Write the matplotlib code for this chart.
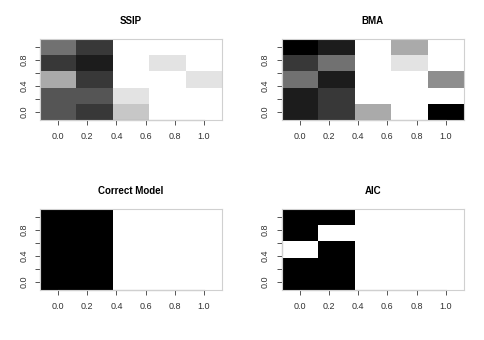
import numpy as np
import matplotlib
matplotlib.use('Agg')
import matplotlib.pyplot as plt

plt.rcParams['font.family'] = ['Liberation Sans', 'DejaVu Sans']

# grid positions
xs = [0.0, 0.25, 0.5, 0.75, 1.0]
ys = [0.0, 0.25, 0.5, 0.75, 1.0]

# cell values (rows listed from top, y=1, down to y=0); 0 = white, 1 = black
ssip = [[5/9, 7/9, 0, 0, 0],
        [7/9, 8/9, 0, 1/9, 0],
        [3/9, 7/9, 0, 0, 1/9],
        [6/9, 6/9, 1/9, 0, 0],
        [6/9, 7/9, 2/9, 0, 0]]
bma = [[1.0, 8/9, 0, 3/9, 0],
       [7/9, 5/9, 0, 1/9, 0],
       [5/9, 8/9, 0, 0, 4/9],
       [8/9, 7/9, 0, 0, 0],
       [8/9, 7/9, 3/9, 0, 1.0]]
correct = [[1, 1, 0, 0, 0],
           [1, 1, 0, 0, 0],
           [1, 1, 0, 0, 0],
           [1, 1, 0, 0, 0],
           [1, 1, 0, 0, 0]]
aic = [[1, 1, 0, 0, 0],
       [1, 0, 0, 0, 0],
       [0, 1, 0, 0, 0],
       [1, 1, 0, 0, 0],
       [1, 1, 0, 0, 0]]

titles = ["SSIP", "BMA", "Correct Model", "AIC"]
panels = [ssip, bma, correct, aic]

fig = plt.figure(figsize=(4.85, 3.4), dpi=100)
pos = [[0.0825, 0.647, 0.3753, 0.238],
       [0.5808, 0.647, 0.3759, 0.238],
       [0.0825, 0.147, 0.3753, 0.238],
       [0.5808, 0.147, 0.3759, 0.238]]

xe = np.array(xs + [1.25]) - 0.125
ye = np.array(ys + [1.25]) - 0.125

for p, z, t in zip(pos, panels, titles):
    ax = fig.add_axes(p)
    z = np.array(z)[::-1]
    ax.pcolormesh(xe, ye, z, cmap='gray_r', vmin=0, vmax=1)
    ax.set_xlim(-0.125, 1.125)
    ax.set_ylim(-0.125, 1.125)
    ax.set_title(t, fontsize=7, fontweight='bold', pad=11)
    for s in ax.spines.values():
        s.set_color('#d0d0d0')
        s.set_linewidth(0.8)
    ax.set_xticks([0, 0.2, 0.4, 0.6, 0.8, 1.0])
    ax.set_xticklabels(['0.0', '0.2', '0.4', '0.6', '0.8', '1.0'])
    ax.set_yticks([0, 0.2, 0.4, 0.6, 0.8, 1.0])
    ax.set_yticklabels(['0.0', '', '0.4', '', '0.8', ''], rotation=90, va='center')
    ax.tick_params(length=3.5, width=0.7, color='#555555', labelsize=6.5,
                   labelcolor='#333333', pad=5)
    # axis lines spanning first to last tick, like R
    ax.plot([0, 1], [-0.125, -0.125], color='#777777', lw=0.8, clip_on=False)
    ax.plot([-0.125, -0.125], [0, 1], color='#777777', lw=0.8, clip_on=False)

plt.savefig('out.png', dpi=100)
